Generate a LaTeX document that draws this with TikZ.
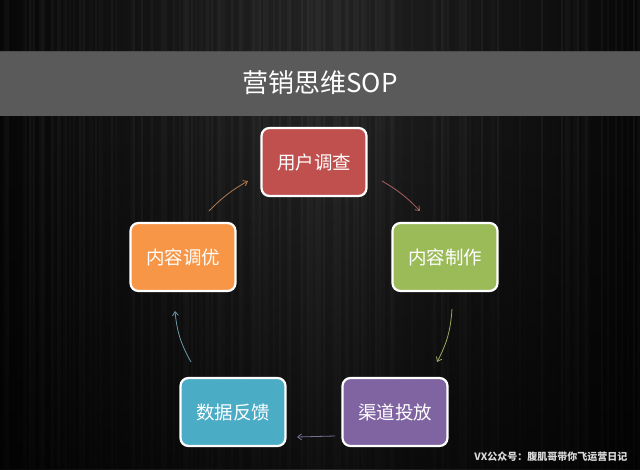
\documentclass[tikz,border=0pt]{standalone}
\usepackage{fontspec}
\setmainfont{Noto Sans CJK SC}
\usetikzlibrary{arrows.meta,fadings}
\definecolor{bgmid}{HTML}{252525}
\definecolor{bgedge}{HTML}{080808}
\definecolor{barc}{HTML}{5A5A5A}
\definecolor{cred}{HTML}{C0504D}
\definecolor{cgreen}{HTML}{9BBB59}
\definecolor{corange}{HTML}{F79646}
\definecolor{cblue}{HTML}{4BACC6}
\definecolor{cpurple}{HTML}{8064A2}
\definecolor{ar1}{HTML}{B07A50}
\definecolor{ar2}{HTML}{A86262}
\definecolor{ar3}{HTML}{9AAA62}
\definecolor{ar4}{HTML}{7A7092}
\definecolor{ar5}{HTML}{6A98A8}
\tikzset{
  stepbox/.style={draw=white, line width=2.2pt, rounded corners=8pt,
    minimum width=105pt, minimum height=68pt, text=white,
    font=\fontsize{18.5}{20}\selectfont, inner sep=0pt},
  flow/.style={line width=0.8pt, -{Straight Barb[length=4pt,width=6pt]}}
}
\begin{document}
\begin{tikzpicture}[x=1pt,y=-1pt]
\useasboundingbox (0,0) rectangle (640,469);
% background
\shade[left color=bgedge, right color=bgedge, middle color=bgmid] (0,0) rectangle (640,469);
\pgfmathsetseed{7}
\foreach \i in {0,2,...,640}{
  \pgfmathsetmacro{\op}{0.02+0.05*rnd}
  \pgfmathsetmacro{\gr}{rnd<0.6 ? 0 : 60}
  \draw[line width=1.6pt, draw=white!\gr!black, opacity=\op] (\i,0) -- (\i,469);
}
\fill[black, opacity=0.6, path fading=north] (0,116) rectangle (640,469);
% title bar
\fill[barc] (0,51) rectangle (640,116);
\draw[black!70, line width=0.8pt] (0,51) -- (640,51);
\node[text=white, font=\fontsize{26}{28}\selectfont] (title) at (320,83) {营销思维SOP};
% boxes
\node[stepbox, fill=cred]    (survey)  at (314,162) {用户调查};
\node[stepbox, fill=cgreen]  (produce) at (445,257) {内容制作};
\node[stepbox, fill=corange] (tune)    at (183,257) {内容调优};
\node[stepbox, fill=cpurple] (channel) at (395,412) {渠道投放};
\node[stepbox, fill=cblue]   (feed)    at (233,412) {数据反馈};
% arrow endpoints
\coordinate (a1s) at (209,211); \coordinate (a1e) at (248,181);
\coordinate (a2s) at (382,181); \coordinate (a2e) at (420,211);
\coordinate (a3s) at (452,309); \coordinate (a3e) at (437,362);
\coordinate (a4s) at (335,436); \coordinate (a4e) at (297,437);
\coordinate (a5s) at (191,362); \coordinate (a5e) at (175,311);
\draw[flow, ar1] (a1s) to[bend left=8] (a1e);
\draw[flow, ar2] (a2s) to[bend left=8] (a2e);
\draw[flow, ar3] (a3s) to[bend left=12] (a3e);
\draw[flow, ar4] (a4s) to (a4e);
\draw[flow, ar5] (a5s) to[bend left=12] (a5e);
% watermark
\node[text=white!85!black, font=\bfseries\fontsize{10}{11}\selectfont, anchor=east] (wm) at (631,457) {VX公众号：腹肌哥带你飞运营日记};
\end{tikzpicture}
\end{document}
